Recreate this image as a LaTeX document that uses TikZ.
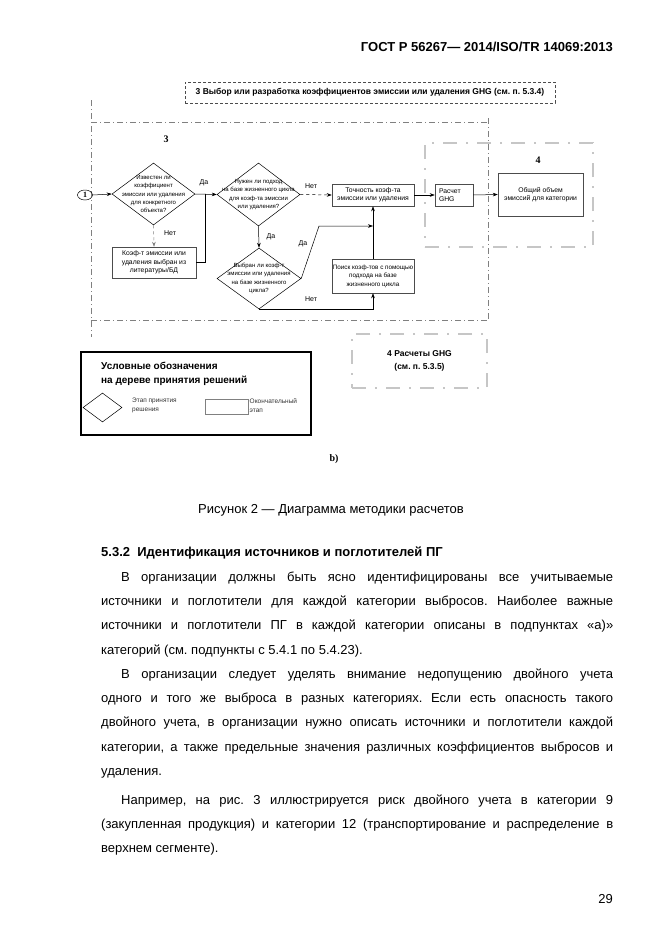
\documentclass[tikz,border=0pt]{standalone}
\usepackage{fontspec}
\setmainfont{Liberation Sans}
\newfontfamily\serifbold{Liberation Serif}
\usepackage{tikz}
\usetikzlibrary{arrows.meta,positioning,shapes,calc}
\frenchspacing

\begin{document}
\begin{tikzpicture}[x=1pt, y=-1pt,
  dec/.style={draw, diamond, inner sep=0pt, line width=0.5pt},
  dectxt/.style={font=\fontsize{6}{8.3}\selectfont, align=center, inner sep=0pt},
  blk/.style={draw=black!70, rectangle, inner sep=1pt, line width=0.5pt, font=\fontsize{6.8}{8.4}\selectfont, align=center},
  arr/.style={-{Stealth[length=5pt,width=3.6pt]}, line width=0.5pt},
  lbl/.style={font=\fontsize{7}{8}\selectfont, inner sep=0pt},
  frm/.style={gray, line width=0.5pt, dash pattern=on 6pt off 3pt on 1pt off 3pt},
  grp/.style={draw=gray!45, line width=1.6pt, dash pattern=on 14pt off 9pt on 2pt off 9pt},
  ln/.style={anchor=base west, inner sep=0pt, font=\fontsize{13}{15}\selectfont}]

\path[use as bounding box, fill=white] (0,0) rectangle (662,935);

% Header
\node[anchor=base east, inner sep=0pt, font=\bfseries\fontsize{13}{15}\selectfont] (hdr) at (613,51) {ГОСТ Р 56267— 2014/ISO/TR 14069:2013};

% Stage 3 title and frame
\node[draw=black!70, line width=0.5pt, dash pattern=on 3pt off 2pt, minimum width=370pt, minimum height=21pt, inner sep=0pt, font=\bfseries\fontsize{8.5}{10}\selectfont] (ttl) at (370,92.5) {3 Выбор или разработка коэффициентов эмиссии или удаления GHG (см. п. 5.3.4)};
\draw[frm] (91,100) -- (91,337);
\draw[frm] (91,122) -- (488,122);
\draw[frm] (488,118) -- (488,320);
\draw[frm] (91,320) -- (488,320);
\node[font=\serifbold\bfseries\fontsize{10}{12}\selectfont] (n3) at (166,139) {3};

% Stage 4 frame
\node[grp, minimum width=168pt, minimum height=104pt] (fr4) at (509,195) {};
\node[font=\serifbold\bfseries\fontsize{10}{12}\selectfont] (n4) at (538,160) {4};

% Start
\node[draw, ellipse, inner sep=0pt, minimum width=15pt, minimum height=10pt, line width=0.5pt, font=\serifbold\bfseries\fontsize{8}{9}\selectfont] (c1) at (85,195) {1};

% Decisions
\node[dec, minimum width=83pt, minimum height=62pt] (dKnown) at (153.5,194) {};
\node[dectxt] at (dKnown) {Известен ли\\коэффициент\\эмиссии или удаления\\для конкретного\\объекта?};
\node[dec, minimum width=83pt, minimum height=63pt] (dLife) at (258.5,194.5) {};
\node[dectxt] at (dLife) {Нужен ли подход\\на базе жизненного цикла\\для коэф-та эмиссии\\или удаления?};
\node[dec, minimum width=84pt, minimum height=61pt] (dChosen) at (259,278.5) {};
\node[dectxt] at (dChosen) {Выбран ли коэф-т\\эмиссии или удаления\\на базе жизненного\\цикла?};

% Stages
\node[blk, minimum width=84pt, minimum height=31pt] (bLit) at (154,262.5) {Коэф-т эмиссии или\\удаления выбран из\\литературы/БД};
\node[blk, minimum width=82pt, minimum height=22pt] (bAcc) at (373,195) {Точность коэф-та\\эмиссии или удаления};
\node[blk, minimum width=82pt, minimum height=34pt, font=\fontsize{6.3}{8.4}\selectfont] (bSearch) at (373,276) {Поиск коэф-тов с помощью\\подхода на базе\\жизненного цикла};
\node[blk, minimum width=38pt, minimum height=22pt, text width=30pt, align=left] (bCalc) at (454,195) {Расчет\\GHG};
\node[blk, minimum width=85pt, minimum height=43pt] (bTotal) at (540.5,194.5) {Общий объем\\эмиссий для категории};

% Connectors
\coordinate (jn) at (205,194);
\coordinate (kink) at (319,226);
\draw[arr] (c1.east) -- (dKnown.west);
\draw[arr] (dKnown.east) -- (dLife.west);
\draw[arr, gray, dashed] (dKnown.south) -- (bLit.north);
\draw[line width=0.5pt] (bLit.east) -| (jn);
\draw[arr, dashed] (dLife.east) -- (bAcc.west);
\draw[arr] (dLife.south) -- (dChosen.north);
\draw[arr] (dChosen.east) -- (kink) -- (kink -| bSearch.north);
\draw[arr] (bSearch.north) -- (bAcc.south);
\draw[arr] (dChosen.south) -| (bSearch.south);
\draw[arr] (bAcc.east) -- (bCalc.west);
\draw[arr] (bCalc.east) -- (bTotal.west);

% Answers
\node[lbl] (yes1) at (204,183) {Да};
\node[lbl] (no1) at (170,233) {Нет};
\node[lbl] (no2) at (311,186) {Нет};
\node[lbl] (yes2) at (271,237) {Да};
\node[lbl] (yes3) at (303,244) {Да};
\node[lbl] (no3) at (311,299) {Нет};

% Stage 4 title
\node[grp, minimum width=135pt, minimum height=54pt, align=center, font=\bfseries\fontsize{8.5}{13}\selectfont] (fr4b) at (419.5,361) {4 Расчеты GHG\\(см. п. 5.3.5)};

% Legend
\node[draw, line width=1.2pt, minimum width=230pt, minimum height=83pt] (leg) at (196,393.5) {};
\node[anchor=north west, inner sep=0pt, align=left, font=\bfseries\fontsize{10}{14}\selectfont] (legT) at (101,362) {Условные обозначения\\на дереве принятия решений};
\node[dec, minimum width=39pt, minimum height=29pt] (legD) at (102.5,407.5) {};
\node[anchor=west, inner sep=0pt, align=left, text=black!80, font=\fontsize{6.5}{9}\selectfont] (legDt) at (132,405) {Этап принятия\\решения};
\node[draw=gray, line width=0.5pt, minimum width=43pt, minimum height=15pt] (legB) at (226.5,406.5) {};
\node[anchor=west, inner sep=0pt, align=left, text=black!80, font=\fontsize{6.5}{9}\selectfont] (legBt) at (249.5,406) {Окончательный\\этап};

\node[font=\serifbold\bfseries\fontsize{10}{12}\selectfont] (sub) at (334,459) {b)};

% Caption
\node[anchor=base, inner sep=0pt, font=\fontsize{13}{15}\selectfont] (cap) at (331,513) {Рисунок 2 — Диаграмма методики расчетов};

% Text, line by line
\node[anchor=base west, inner sep=0pt, font=\bfseries\fontsize{13}{15}\selectfont] (sec) at (101,556) {5.3.2\ \ Идентификация источников и поглотителей ПГ};
\node[ln] (p1a) at (121,581) {\makebox[492pt][s]{В организации должны быть ясно идентифицированы все учитываемые}};
\node[ln] (p1b) at (101,605.4) {\makebox[512pt][s]{источники и поглотители для каждой категории выбросов. Наиболее важные}};
\node[ln] (p1c) at (101,629.8) {\makebox[512pt][s]{источники и поглотители ПГ в каждой категории описаны в подпунктах «а)»}};
\node[ln] (p1d) at (101,654.2) {категорий (см. подпункты с 5.4.1 по 5.4.23).};
\node[ln] (p2a) at (121,678) {\makebox[492pt][s]{В организации следует уделять внимание недопущению двойного учета}};
\node[ln] (p2b) at (101,702.4) {\makebox[512pt][s]{одного и того же выброса в разных категориях. Если есть опасность такого}};
\node[ln] (p2c) at (101,726.8) {\makebox[512pt][s]{двойного учета, в организации нужно описать источники и поглотители каждой}};
\node[ln] (p2d) at (101,751.2) {\makebox[512pt][s]{категории, а также предельные значения различных коэффициентов выбросов и}};
\node[ln] (p2e) at (101,775.6) {удаления.};
\node[ln] (p3a) at (121,804) {\makebox[492pt][s]{Например, на рис. 3 иллюстрируется риск двойного учета в категории 9}};
\node[ln] (p3b) at (101,828.4) {\makebox[512pt][s]{(закупленная продукция) и категории 12 (транспортирование и распределение в}};
\node[ln] (p3c) at (101,852.8) {верхнем сегменте).};

\node[anchor=base east, inner sep=0pt, font=\fontsize{13}{15}\selectfont] (pg) at (613,903) {29};

\end{tikzpicture}
\end{document}
